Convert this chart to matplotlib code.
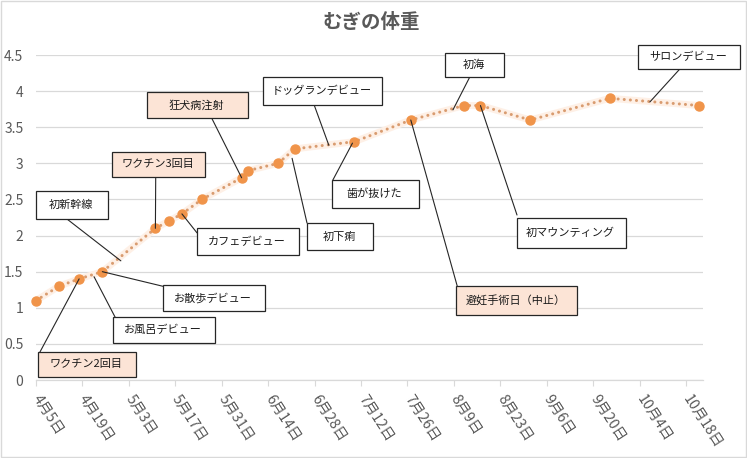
import datetime as dt
import matplotlib
matplotlib.use("Agg")
import matplotlib.pyplot as plt
import matplotlib.dates as mdates
import matplotlib.transforms as mtransforms
from matplotlib.patches import Rectangle
from matplotlib.ticker import FixedLocator, FuncFormatter

plt.rcParams['font.family'] = ['Noto Sans CJK JP', 'DejaVu Sans']

YEAR = 2021
TITLE = "むぎの体重"

# ---- data -----------------------------------------------------------------
dates = ["4/5", "4/12", "4/18", "4/25", "5/11", "5/15", "5/19", "5/25",
         "6/6", "6/8", "6/17", "6/22", "7/10", "7/27", "8/12", "8/17",
         "9/1", "9/25", "10/22"]
weights = [1.1, 1.3, 1.4, 1.5, 2.1, 2.2, 2.3, 2.5,
           2.8, 2.9, 3.0, 3.2, 3.3, 3.6, 3.8, 3.8,
           3.6, 3.9, 3.8]

tick_dates = ["4/5", "4/19", "5/3", "5/17", "5/31", "6/14", "6/28", "7/12",
              "7/26", "8/9", "8/23", "9/6", "9/20", "10/4", "10/18"]
y_ticks = [0, 0.5, 1, 1.5, 2, 2.5, 3, 3.5, 4, 4.5]

# annotation texts and the (date, value) each leader line points to
note_texts = ["ワクチン2回目", "お風呂デビュー", "お散歩デビュー", "初新幹線",
              "ワクチン3回目", "狂犬病注射", "カフェデビュー", "ドッグランデビュー",
              "初下痢", "歯が抜けた", "避妊手術日（中止）", "初海",
              "初マウンティング", "サロンデビュー"]
note_target_dates = ["4/18", "4/22 12:00", "4/25", "4/30 14:00",
                     "5/11", "6/6", "5/19", "7/2 07:00",
                     "6/21 05:00", "7/9 10:00", "7/27", "8/8 17:00",
                     "8/17", "10/7 02:00"]
note_target_values = [1.4, 1.43, 1.5, 1.65,
                      2.1, 2.8, 2.3, 3.25,
                      3.07, 3.28, 3.6, 3.74,
                      3.8, 3.85]
highlight = [True, False, False, False, True, True, False, False,
             False, False, True, False, False, False]

# ---- layout (pixels, image coords: x right, y down) -----------------------
W, H = 747, 458
box_rects = [  # x0, y0, x1, y1
    (38, 352, 136, 377), (113, 317, 215, 343), (163, 285, 265, 311),
    (36, 191, 108, 219), (112, 152, 205, 177), (147, 92, 248, 118),
    (197, 228, 299, 255), (263, 77, 382, 105), (307, 223, 373, 250),
    (332, 180, 419, 208), (456, 286, 577, 315), (445, 53, 504, 77),
    (517, 218, 626, 248), (638, 45, 740, 69)]
leader_rel = [  # start point of the leader as fraction of the box (x, y from top)
    (0.02, 0.0), (0.02, 0.0), (0.0, 0.05), (0.43, 1.0),
    (0.47, 1.0), (0.64, 1.0), (0.0, 0.18), (0.43, 1.0),
    (0.0, 0.0), (0.01, 0.0), (0.01, 0.0), (0.42, 1.0),
    (0.0, -0.1), (0.41, 1.0)]


def to_date(s):
    parts = s.split()
    m, d = map(int, parts[0].split("/"))
    hh, mm = (map(int, parts[1].split(":")) if len(parts) > 1 else (0, 0))
    return dt.datetime(YEAR, m, d, hh, mm)


x = mdates.date2num([to_date(s) for s in dates])
xt = mdates.date2num([to_date(s) for s in tick_dates])

fig = plt.figure(figsize=(W / 100, H / 100), dpi=100)
ax_left, ax_right, ax_bottom, ax_top = 36, 703, 380, 55
ax = fig.add_axes([ax_left / W, 1 - ax_bottom / H,
                   (ax_right - ax_left) / W, (ax_bottom - ax_top) / H])

gray_text = "#595959"
grid_c = "#D9D9D9"

ax.set_ylim(0, 4.5)
x0 = mdates.date2num(to_date(dates[0]))
ax.set_xlim(x0, x0 + 201.1)

ax.set_yticks(y_ticks)
ax.yaxis.set_major_formatter(FuncFormatter(lambda v, p: f"{v:g}"))
ax.grid(axis="y", color=grid_c, lw=0.9)
ax.set_axisbelow(True)
for s in ["top", "right", "left"]:
    ax.spines[s].set_visible(False)
ax.spines["bottom"].set_color(grid_c)
ax.spines["bottom"].set_linewidth(0.9)

ax.xaxis.set_major_locator(FixedLocator(xt))


def fmt_date(v, p):
    d = mdates.num2date(v)
    return f"{d.month}月{d.day}日"


ax.xaxis.set_major_formatter(FuncFormatter(fmt_date))
ax.tick_params(axis="y", length=0, pad=9, labelsize=10, labelcolor=gray_text)
ax.tick_params(axis="x", length=4, color=grid_c, labelsize=10.3,
               labelcolor=gray_text, pad=8)
for lab in ax.get_xticklabels():
    lab.set_rotation(-57)
    lab.set_ha("left")
    lab.set_va("center")
    lab.set_rotation_mode("anchor")

# series: glow, dotted line, markers
ax.plot(x, weights, color="#FEF0E6", lw=5, solid_capstyle="round", zorder=2,
        clip_on=False)
ax.plot(x, weights, color="#D99C70", lw=2.2, linestyle=(0, (0.01, 2.0)),
        dash_capstyle="round", zorder=3, clip_on=False)
ax.plot(x, weights, linestyle="none", marker="o", ms=6.5,
        color="#F0944A", mec="#F0944A", zorder=4, clip_on=False)

# annotation boxes
pix = mtransforms.Affine2D().scale(1 / W, -1 / H).translate(0, 1) + fig.transFigure
for i, txt in enumerate(note_texts):
    bx0, by0, bx1, by1 = box_rects[i]
    fill = "#FCE4D6" if highlight[i] else "white"
    rx, ry = leader_rel[i]
    sx = bx0 + rx * (bx1 - bx0)
    sy = by0 + ry * (by1 - by0)
    tx = mdates.date2num(to_date(note_target_dates[i]))
    ax.annotate("", xy=(tx, note_target_values[i]), xycoords="data",
                xytext=(sx, sy), textcoords=pix,
                arrowprops=dict(arrowstyle="-", color="#262626", lw=0.8,
                                shrinkA=0, shrinkB=0),
                annotation_clip=False, zorder=5)
    rect = Rectangle((bx0, by0), bx1 - bx0, by1 - by0, transform=pix,
                     facecolor=fill, edgecolor="#262626", lw=0.9, zorder=6)
    fig.add_artist(rect)
    fig.text((bx0 + bx1) / 2 - 1, (by0 + by1) / 2, txt, transform=pix,
             ha="center", va="center", fontsize=8, color="#1a1a1a", zorder=7)

# title
fig.text(371 / W, 1 - 22 / H, TITLE, ha="center", va="center",
         fontsize=14, color=gray_text, fontweight="bold")

# chart-area border
fig.add_artist(Rectangle((0.5, 0.5), W - 1.5, H - 1.5, transform=pix,
                         facecolor="none", edgecolor=grid_c, lw=1))

fig.savefig("out.png", dpi=100)
